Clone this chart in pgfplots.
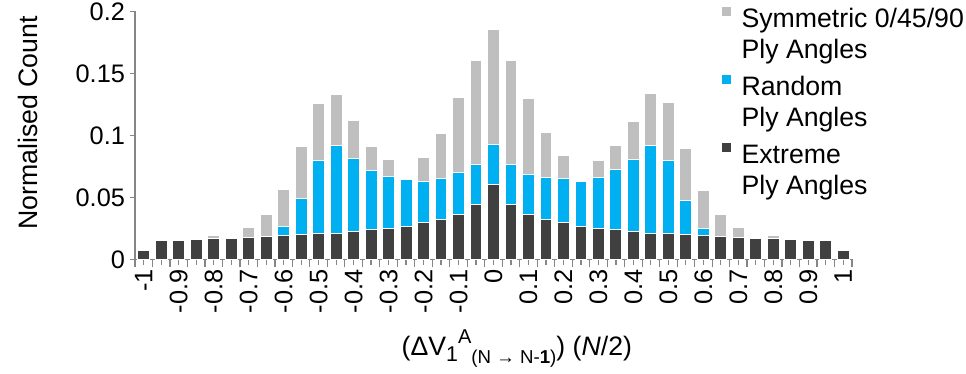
\documentclass[border=0pt]{standalone}
\usepackage{pgfplots}
\pgfplotsset{compat=1.18}
\usepackage{fontspec}
\setmainfont{Liberation Sans}
\definecolor{symgrey}{HTML}{BFBFBF}
\definecolor{randblue}{HTML}{00B0F0}
\definecolor{extdark}{HTML}{404040}
\definecolor{axgrey}{HTML}{868686}
\pgfplotsset{sq legend/.style={legend image code/.code={\fill[##1, draw=none] (0pt,1.7pt) rectangle (6.5pt,8.2pt);}}}

\pgfplotstableread{
x y
-0.8 0.0196
-0.75 0.018
-0.7 0.0258
-0.65 0.0365
-0.6 0.0567
-0.55 0.0906
-0.5 0.1258
-0.45 0.1330
-0.4 0.1123
-0.35 0.0906
-0.3 0.0803
-0.25 0.0620
-0.2 0.0825
-0.15 0.1016
-0.1 0.1306
-0.05 0.1600
0 0.1855
0.05 0.1600
0.1 0.1293
0.15 0.1021
0.2 0.0841
0.25 0.0620
0.3 0.0800
0.35 0.0914
0.4 0.1115
0.45 0.1336
0.5 0.1263
0.55 0.0895
0.6 0.0553
0.65 0.0365
0.7 0.0255
0.75 0.0170
0.8 0.0196
}\symdata

\pgfplotstableread{
x y
-0.6 0.0263
-0.55 0.0489
-0.5 0.0793
-0.45 0.0914
-0.4 0.0817
-0.35 0.0718
-0.3 0.0666
-0.25 0.0642
-0.2 0.0631
-0.15 0.0653
-0.1 0.0704
-0.05 0.0766
0 0.0927
0.05 0.0766
0.1 0.0688
0.15 0.0658
0.2 0.0650
0.25 0.0631
0.3 0.0660
0.35 0.0726
0.4 0.0809
0.45 0.0919
0.5 0.0801
0.55 0.0478
0.6 0.0247
}\randdata

\pgfplotstableread{
x y
-1 0.0070
-0.95 0.0150
-0.9 0.0155
-0.85 0.0162
-0.8 0.0167
-0.75 0.0172
-0.7 0.0176
-0.65 0.0184
-0.6 0.0194
-0.55 0.0202
-0.5 0.0205
-0.45 0.0210
-0.4 0.0226
-0.35 0.0242
-0.3 0.0252
-0.25 0.0265
-0.2 0.0300
-0.15 0.0324
-0.1 0.0365
-0.05 0.0444
0 0.0602
0.05 0.0444
0.1 0.0365
0.15 0.0323
0.2 0.0298
0.25 0.0263
0.3 0.0252
0.35 0.0242
0.4 0.0226
0.45 0.0212
0.5 0.0206
0.55 0.0202
0.6 0.0194
0.65 0.0182
0.7 0.0174
0.75 0.0169
0.8 0.0164
0.85 0.0160
0.9 0.0150
0.95 0.0148
1 0.0073
}\extdata

\begin{document}
\begin{tikzpicture}
\begin{axis}[
  scale only axis, width=537.75pt, height=186pt,
  xmin=-1.025, xmax=1.025, ymin=0, ymax=0.2,
  ybar, bar shift=0pt, bar width=0.034,
  axis x line=bottom, axis y line=left,
  axis line style={-, draw=axgrey, line width=0.9pt},
  tick style={draw=axgrey, line width=0.9pt},
  tick align=outside,
  major tick length=4pt, minor tick length=6pt,
  ytick={0,0.05,0.1,0.15,0.2},
  yticklabels={0,0.05,0.1,0.15,0.2},
  xtick={-1,-0.95,-0.9,-0.85,-0.8,-0.75,-0.7,-0.65,-0.6,-0.55,-0.5,-0.45,-0.4,-0.35,-0.3,-0.25,-0.2,-0.15,-0.1,-0.05,0,0.05,0.1,0.15,0.2,0.25,0.3,0.35,0.4,0.45,0.5,0.55,0.6,0.65,0.7,0.75,0.8,0.85,0.9,0.95,1},
  xticklabels={-1,,-0.9,,-0.8,,-0.7,,-0.6,,-0.5,,-0.4,,-0.3,,-0.2,,-0.1,,0,,0.1,,0.2,,0.3,,0.4,,0.5,,0.6,,0.7,,0.8,,0.9,,1},
  minor xtick={-1.025,-0.975,...,1.03},
  ticklabel style={font=\fontsize{19}{22}\selectfont},
  xticklabel style={rotate=90, anchor=east},
  ylabel={Normalised Count},
  ylabel style={at={(axis description cs:-0.1353,0.55)}, anchor=base, font=\fontsize{20}{24}\selectfont},
  xlabel={(ΔV\raisebox{-5pt}{\fontsize{16}{16}\selectfont 1}\raisebox{9pt}{\fontsize{15}{15}\selectfont A}\raisebox{-6pt}{\fontsize{14}{14}\selectfont (N → N-\textbf{1})}) (\textit{N}/2)},
  xlabel style={at={(axis description cs:0.3654,-0.386)}, anchor=base west, font=\fontsize{20}{24}\selectfont},
  legend style={at={(axis description cs:0.8187,1.022)}, anchor=north west, draw=none, fill=none,
    inner sep=0pt, row sep=33.5pt, column sep=8pt, font=\fontsize{20}{23}\selectfont,
    nodes={inner sep=0pt}, cells={anchor=base west}},
  legend cell align=left,
]
\addplot[fill=symgrey, draw=white, line width=0.75pt, sq legend] table[x=x,y=y] {\symdata};
\addlegendentry{\begin{tabular}[t]{@{}l@{}}Symmetric 0/45/90\\Ply Angles\end{tabular}}
\addplot[fill=randblue, draw=white, line width=0.75pt, sq legend] table[x=x,y=y] {\randdata};
\addlegendentry{\begin{tabular}[t]{@{}l@{}}Random\\Ply Angles\end{tabular}}
\addplot[fill=extdark, draw=white, line width=0.75pt, sq legend] table[x=x,y=y] {\extdata};
\addlegendentry{\begin{tabular}[t]{@{}l@{}}Extreme\\Ply Angles\end{tabular}}
\path (rel axis cs:0,0) coordinate (bl);
\path (rel axis cs:1,1) coordinate (tr);
\end{axis}
\pgfresetboundingbox
\path ([shift={(-101.25pt,-86pt)}]bl) rectangle ([shift={(85.5pt,8.5pt)}]tr);
\end{tikzpicture}
\end{document}
